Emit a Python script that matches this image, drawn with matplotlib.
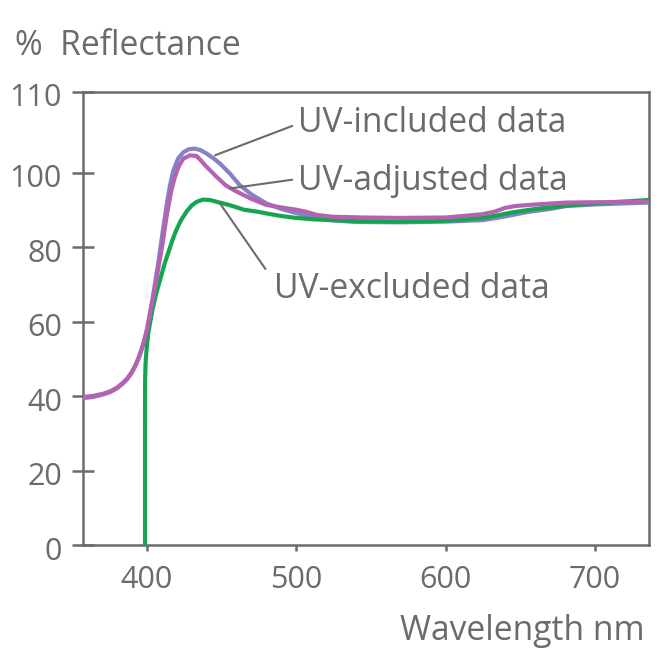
import matplotlib
matplotlib.use("Agg")
import matplotlib.pyplot as plt
import matplotlib.transforms as mtransforms

plt.rcParams['font.family'] = ['Open Sans', 'DejaVu Sans']

# ---- data ----
incl_x = [357, 364, 371, 376, 380, 384, 387, 390, 392.5, 395, 397, 399, 400.4, 402, 404, 408, 411, 413.4,
          415.5, 417.8, 421, 424.5, 428, 432, 436, 440, 445, 449, 455.7, 462, 470, 480, 490, 500, 510,
          522, 540, 570, 600, 625, 640, 655, 670, 681, 700, 720, 736]
incl_y = [39.5, 39.8, 40.5, 41.2, 42.1, 43.4, 44.6, 46.3, 48.2, 50.6, 53.0, 55.8, 58.2, 62.0, 66.3, 76.5, 85.0, 91.5,
          96.5, 100.6, 103.8, 105.5, 106.3, 106.5, 106.1, 105.2, 103.8, 102.5, 99.8, 96.8, 94.2, 91.8, 90.3, 89.2, 88.2,
          87.3, 86.8, 86.7, 86.9, 87.3, 88.3, 89.5, 90.3, 91.1, 91.5, 91.8, 92.0]

adj_x = [357, 364, 371, 376, 380, 384, 387, 390, 392.5, 395, 397, 399, 400.4, 402, 404, 406.5, 409, 411,
         413, 414.5, 416.5, 418.9, 421.5, 424.5, 429, 433.4, 436.5, 440.1, 446.8, 453, 460, 470, 480, 490,
         500, 506, 514, 524.5, 545, 569, 600, 625, 633, 640, 647, 660, 680, 700, 720, 736]
adj_y = [39.8, 40.1, 40.7, 41.4, 42.3, 43.6, 44.8, 46.5, 48.4, 50.8, 53.2, 56.0, 58.3, 61.6, 65.8, 71.5, 77.2, 82.0,
         87.5, 91.0, 95.3, 98.9, 101.8, 103.8, 104.7, 104.5, 103.2, 101.6, 98.9, 96.6, 95.0, 93.0, 91.4, 90.7,
         90.1, 89.6, 88.7, 88.2, 88.0, 87.9, 88.0, 88.9, 89.6, 90.6, 91.1, 91.5, 92.0, 92.1, 92.2, 92.2]

excl_x = [398.9, 398.9, 398.95, 399.2, 399.8, 401, 402.2, 404, 406.5, 408.9, 412, 415.6, 418, 420, 423,
          426.7, 430, 433.4, 437.6, 442.3, 449, 455.7, 465, 475, 480, 490, 500, 512, 524.5, 545, 569, 600,
          625, 635, 645, 660, 680.7, 700, 720, 736]
excl_y = [0, 30, 44, 48.5, 52, 56.9, 59.6, 63.5, 67.8, 71.2, 75.6, 80.0, 82.8, 84.8, 87.3,
          89.6, 91.2, 92.2, 92.8, 92.7, 92.0, 91.3, 90.1, 89.5, 89.1, 88.4, 87.9, 87.5, 87.3, 87.0, 86.9, 87.1,
          87.9, 88.6, 89.4, 90.3, 91.2, 91.8, 92.3, 92.7]

x_ticks = [400, 500, 600, 700]
x_tick_labels = ["400", "500", "600", "700"]
y_ticks = [0, 20, 40, 60, 80, 100, 121.7]
y_tick_labels = ["0", "20", "40", "60", "80", "100", "110"]

labels = ["UV-included data", "UV-adjusted data", "UV-excluded data"]

GREY = "#6b6b6b"
C_INCL = "#8482c4"
C_ADJ = "#b463b0"
C_EXCL = "#14a54e"
FS = 22      # tick labels
FT = 24.2    # other text

fig = plt.figure(figsize=(6.66, 6.58), dpi=100)
ax = fig.add_axes([0.1242, 0.1713, 0.975 - 0.1242, 0.8602 - 0.1713])

ax.plot(incl_x, incl_y, color=C_INCL, lw=3.0, solid_capstyle='butt', solid_joinstyle='round', zorder=3)
ax.plot(excl_x, excl_y, color=C_EXCL, lw=3.0, solid_capstyle='butt', solid_joinstyle='round', zorder=4)
ax.plot(adj_x, adj_y, color=C_ADJ, lw=3.0, solid_capstyle='butt', solid_joinstyle='round', zorder=5)

ax.set_xlim(357.2, 736.3)
ax.set_ylim(0, 121.7)

ax.set_xticks(x_ticks)
ax.set_xticklabels(x_tick_labels)
ax.set_yticks(y_ticks)
ax.set_yticklabels(y_tick_labels)

for s in ax.spines.values():
    s.set_color(GREY)
    s.set_linewidth(1.8)

ax.tick_params(axis='y', direction='inout', length=16, width=1.8, color=GREY,
               labelcolor=GREY, labelsize=FS, pad=7)
ax.tick_params(axis='x', direction='out', length=4.5, width=1.8, color=GREY,
               labelcolor=GREY, labelsize=FS, pad=10)

# nudge y tick labels down a little, as in the reference
shift = mtransforms.ScaledTranslation(0, -3 / 100, fig.dpi_scale_trans)
for lab in ax.get_yticklabels():
    lab.set_transform(lab.get_transform() + shift)

# annotations with leader lines
ax.annotate(labels[0], xy=(445.7, 104.7), xytext=(501.0, 113.5),
            fontsize=FT, color=GREY, va='center', ha='left',
            arrowprops=dict(arrowstyle='-', color=GREY, lw=1.5, shrinkA=0, shrinkB=0,
                            relpos=(-0.02, 0.4)), zorder=6)
ax.annotate(labels[1], xy=(455.7, 95.8), xytext=(501.0, 97.7),
            fontsize=FT, color=GREY, va='center', ha='left',
            arrowprops=dict(arrowstyle='-', color=GREY, lw=1.5, shrinkA=0, shrinkB=0,
                            relpos=(-0.02, 0.55)), zorder=6)
ax.annotate(labels[2], xy=(449.0, 91.8), xytext=(485.0, 68.7),
            fontsize=FT, color=GREY, va='center', ha='left',
            arrowprops=dict(arrowstyle='-', color=GREY, lw=1.5, shrinkA=0, shrinkB=0,
                            relpos=(-0.03, 1.1)), zorder=6)

fig.text(15 / 666, 1 - 46 / 658, "%  Reflectance", fontsize=FT, color=GREY,
         ha='left', va='center')
fig.text(645 / 666, 1 - 631 / 658, "Wavelength nm", fontsize=FT, color=GREY,
         ha='right', va='center')

fig.savefig("out.png", dpi=100)
